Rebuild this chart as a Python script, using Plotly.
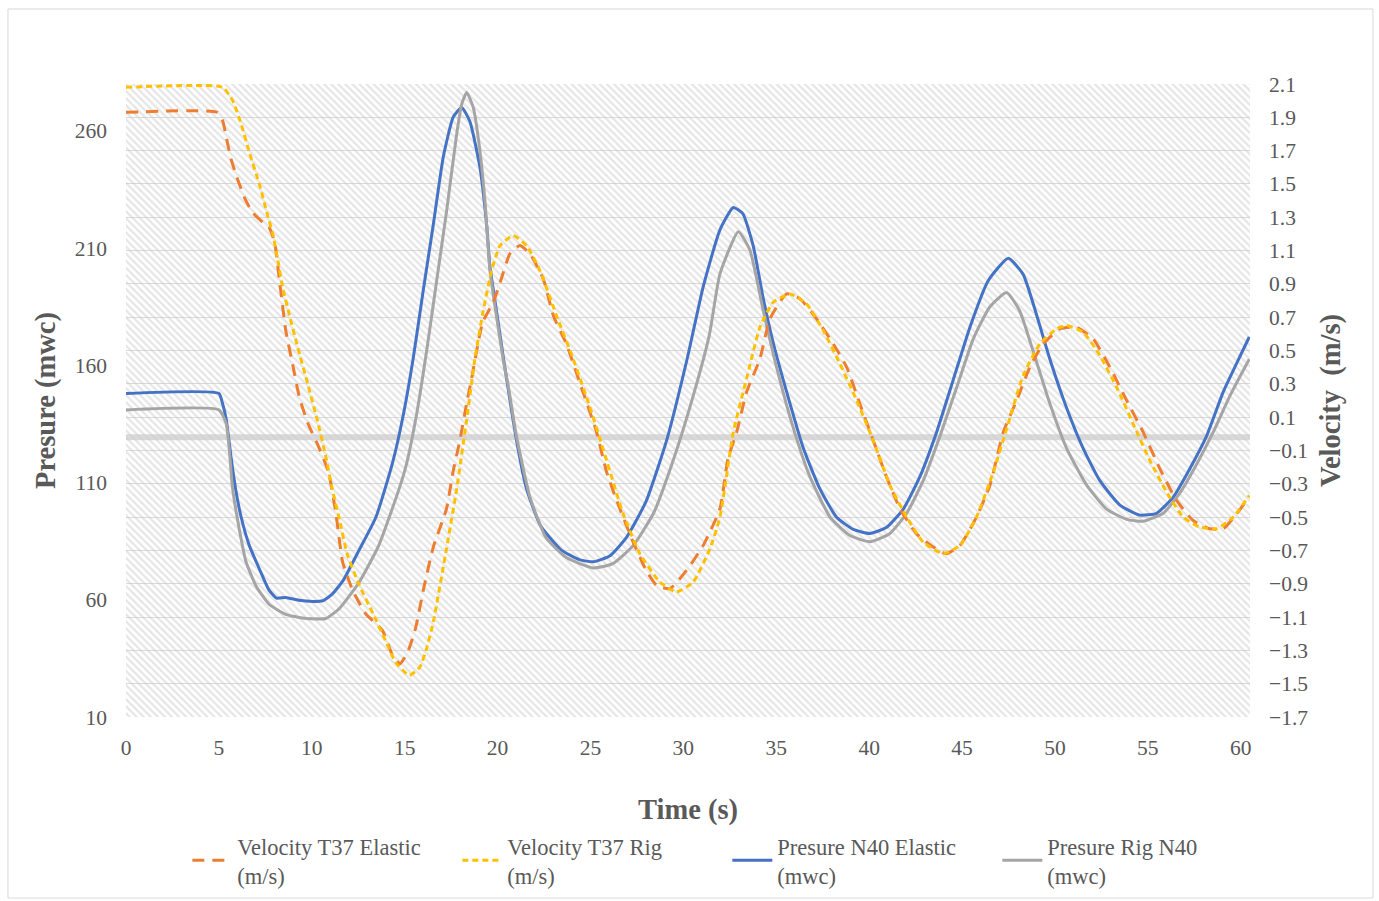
import plotly.graph_objects as go

# ---------------- data ----------------
t_vel_elastic = [0, 4.9, 5.2, 5.4, 5.65, 6.0, 6.37, 6.8, 7.36, 7.7, 8.0, 8.25, 8.6, 9.0, 9.33, 9.8,
                 10.3, 10.9, 11.3, 11.66, 12.2, 12.9, 13.8, 14.35, 14.75, 15.2, 15.6, 16.0, 16.54,
                 17.25, 17.6, 17.97, 18.33, 18.6, 19.2, 19.77, 20.2, 20.66, 21.2, 21.74, 22.46, 23.0,
                 23.7, 24.6, 25.33, 25.87, 26.58, 27.3, 28.0, 28.56, 29.27, 30.17, 31.07, 31.97,
                 32.4, 32.87, 33.4, 34.12, 34.66, 35.56, 36.28, 37.17, 38.07, 38.79, 39.5, 40.22,
                 40.94, 41.66, 42.55, 43.45, 44.17, 44.89, 45.78, 46.5, 47.22, 47.94, 48.65, 49.37,
                 50.27, 51.16, 52.06, 52.96, 53.86, 54.75, 55.65, 56.55, 57.44, 58.34, 59.06, 59.78,
                 60.46]
vel_elastic = [1.93, 1.93, 1.88, 1.78, 1.65, 1.53, 1.42, 1.33, 1.27, 1.24, 1.15, 0.93, 0.62, 0.40,
               0.22, 0.06, -0.06, -0.23, -0.48, -0.77, -0.94, -1.08, -1.18, -1.33, -1.38, -1.30,
               -1.16, -0.94, -0.68, -0.45, -0.23, -0.04, 0.18, 0.33, 0.67, 0.79, 0.93, 1.08, 1.13,
               1.08, 0.93, 0.71, 0.54, 0.25, 0.01, -0.23, -0.45, -0.65, -0.82, -0.91, -0.93, -0.82,
               -0.67, -0.45, -0.15, 0.01, 0.25, 0.45, 0.69, 0.84, 0.81, 0.69, 0.54, 0.40, 0.18,
               -0.04, -0.26, -0.45, -0.60, -0.68, -0.72, -0.67, -0.50, -0.31, 0.01, 0.20, 0.40,
               0.54, 0.63, 0.64, 0.57, 0.40, 0.20, 0.01, -0.21, -0.40, -0.52, -0.57, -0.57, -0.48,
               -0.38]

t_vel_rig = [0, 5.2, 5.74, 6.2, 6.64, 7.2, 7.6, 7.9, 8.16, 8.43, 8.8, 9.24, 9.78, 10.3, 10.76,
             11.1, 11.5, 11.9, 12.56, 13.3, 14.0, 14.5, 15.25, 15.82, 16.15, 16.54, 17.25, 17.8,
             18.33, 18.78, 19.23, 19.68, 20.13, 20.84, 21.56, 22.28, 23.17, 24.07, 24.97, 25.87,
             26.76, 27.66, 28.74, 29.63, 30.53, 31.43, 31.97, 32.69, 33.4, 34.12, 34.84, 35.74,
             36.63, 37.53, 38.43, 39.33, 40.22, 41.12, 42.02, 42.91, 43.99, 44.89, 45.78, 46.68,
             47.4, 48.29, 49.19, 50.09, 50.63, 51.52, 52.42, 53.32, 54.21, 55.11, 56.01, 56.9,
             57.8, 58.7, 59.6, 60.46]
vel_rig = [2.08, 2.08, 2.0, 1.86, 1.69, 1.49, 1.32, 1.2, 1.05, 0.88, 0.71, 0.52, 0.30, 0.08,
           -0.14, -0.33, -0.52, -0.72, -0.91, -1.08, -1.25, -1.37, -1.45, -1.40, -1.30, -1.13,
           -0.69, -0.33, 0.08, 0.45, 0.74, 0.98, 1.13, 1.19, 1.13, 0.98, 0.71, 0.45, 0.16, -0.16,
           -0.48, -0.72, -0.89, -0.95, -0.89, -0.69, -0.50, 0.01, 0.33, 0.64, 0.79, 0.84, 0.78,
           0.62, 0.42, 0.20, -0.04, -0.31, -0.50, -0.65, -0.72, -0.67, -0.50, -0.23, 0.03, 0.35,
           0.54, 0.63, 0.65, 0.61, 0.47, 0.28, 0.06, -0.16, -0.35, -0.50, -0.56, -0.57, -0.50,
           -0.37]

t_p_elastic = [0, 5.0, 5.2, 5.4, 5.65, 5.9, 6.2, 6.64, 7.2, 7.7, 8.1, 8.6, 9.3, 10.05, 10.6,
               11.1, 11.7, 12.56, 13.45, 14.35, 14.93, 15.46, 16.0, 16.54, 17.08, 17.62, 18.07,
               18.51, 19.05, 19.41, 19.59, 19.86, 20.31, 20.67, 21.02, 21.56, 22.3, 23.4, 24.4,
               25.15, 26.05, 26.94, 28.0, 29.1, 30.2, 31.07, 31.97, 32.69, 33.2, 33.76, 34.3,
               34.84, 35.56, 36.46, 37.35, 38.25, 39.15, 40.04, 40.94, 41.84, 42.73, 43.63, 44.53,
               45.43, 46.4, 47.49, 48.29, 49.01, 49.73, 50.63, 51.52, 52.42, 53.5, 54.57, 55.47,
               56.37, 57.26, 58.16, 59.06, 59.78, 60.46]
p_elastic = [148, 148, 143.6, 136.7, 121, 107.3, 95.2, 83.1, 72.8, 64.1, 60.7, 61, 59.8, 59.3,
             59.6, 62.4, 68.4, 81.4, 95.2, 118.5, 139, 163, 192, 220, 249, 266, 270, 264, 244.5,
             220, 202, 187.6, 163.4, 145, 128, 107.3, 91.8, 81.4, 77.1, 76.2, 78.8, 86.6, 102.1,
             128, 162.6, 193.6, 217.8, 227.3, 224.7, 211, 188.5, 169.5, 148.7, 124.6, 107.3,
             95.2, 90, 88.3, 90.9, 98.7, 112.5, 131.5, 153.9, 176.4, 196, 205.7, 198.8, 181.6,
             162.6, 141.8, 124.6, 110.8, 100.4, 96.1, 96.9, 103.8, 115.9, 129.8, 148.7, 160.8,
             172.1]

t_p_rig = [0, 5.0, 5.4, 5.74, 6.1, 6.46, 7.0, 7.7, 8.6, 9.7, 10.76, 11.5, 12.56, 13.6, 14.7,
           15.1, 15.64, 16.18, 16.72, 17.26, 17.8, 18.07, 18.34, 18.69, 19.05, 19.32, 19.59,
           19.95, 20.31, 20.58, 21.02, 21.74, 22.6, 23.7, 25.15, 26.2, 27.3, 28.4, 29.45, 30.53,
           31.4, 31.97, 32.96, 33.58, 34.3, 35.02, 35.92, 36.81, 37.9, 38.97, 40.04, 41.12,
           42.02, 42.91, 43.81, 44.71, 45.6, 46.5, 47.4, 48.1, 48.83, 49.73, 50.63, 51.7, 52.78,
           53.86, 54.75, 55.83, 56.73, 57.62, 58.52, 59.42, 60.46]
p_rig = [141, 141, 135, 107.3, 90, 76.2, 65.9, 58.1, 53.8, 52, 52, 56.4, 67.6, 83.1, 107.3,
         118, 139, 166, 196, 226, 258.7, 271.4, 276.4, 270, 251.5, 230.2, 200.4, 180.5, 162,
         151, 129.7, 103.9, 86.6, 78, 73.6, 75.4, 83.1, 97, 119.4, 147, 173, 199, 217, 209.2,
         183.3, 159.1, 133.2, 112.5, 95.2, 87.4, 84.8, 88.3, 96.9, 110.8, 129.8, 150.5, 171.2,
         185, 191.1, 183.3, 166, 143.6, 124.6, 109, 98.7, 94.3, 93.5, 96.9, 105.6, 117.7, 131.5,
         147, 162.6]

series_names = ["Velocity T37 Elastic<br>(m/s)", "Velocity T37 Rig<br>(m/s)",
                "Presure N40 Elastic<br>(mwc)", "Presure Rig N40<br>(mwc)"]

x_range = [0, 60.5]
p_range = [10, 280]
v_range = [-1.7, 2.1]
axis_cross_v = -0.02   # where the horizontal axis line crosses the velocity scale

FONT = "Liberation Serif"
GREY = "#595959"

fig = go.Figure()

# hatched plot-area background
fig.add_trace(go.Scatter(
    x=[x_range[0], x_range[1], x_range[1], x_range[0], x_range[0]],
    y=[p_range[0], p_range[0], p_range[1], p_range[1], p_range[0]],
    fill="toself", mode="none", showlegend=False, hoverinfo="skip",
    fillcolor="rgba(0,0,0,0)",
    fillpattern=dict(shape="\\", size=5, solidity=0.45, fgcolor="#cccccc",
                     bgcolor="rgba(0,0,0,0)"),
))

fig.add_trace(go.Scatter(x=t_p_elastic, y=p_elastic, name=series_names[2], mode="lines",
                         line=dict(color="#4472C4", width=3, shape="spline", smoothing=0.5),
                         legendrank=3))
fig.add_trace(go.Scatter(x=t_p_rig, y=p_rig, name=series_names[3], mode="lines",
                         line=dict(color="#A5A5A5", width=3, shape="spline", smoothing=0.5),
                         legendrank=4))
fig.add_trace(go.Scatter(x=t_vel_elastic, y=vel_elastic, name=series_names[0], mode="lines",
                         yaxis="y2",
                         line=dict(color="#ED7D31", width=3, dash="12px,8px", shape="spline",
                                   smoothing=0.5),
                         legendrank=1))
fig.add_trace(go.Scatter(x=t_vel_rig, y=vel_rig, name=series_names[1], mode="lines",
                         yaxis="y2",
                         line=dict(color="#FFC000", width=3, dash="6px,4px", shape="spline",
                                   smoothing=0.5),
                         legendrank=2))

tickfont = dict(family=FONT, size=21.5, color=GREY)
titlefont = dict(family=FONT, size=28.5, color=GREY, weight="bold")

fig.update_layout(
    width=1379, height=901,
    margin=dict(l=126, r=129, t=84, b=184, autoexpand=False),
    paper_bgcolor="white", plot_bgcolor="white",
    font=dict(family=FONT, color=GREY),
    xaxis=dict(range=x_range, tick0=0, dtick=5, showgrid=False, zeroline=False,
               showline=False, ticks="", tickfont=tickfont, ticklabelstandoff=15,
               title=dict(text="Time (s)", font=titlefont, standoff=40)),
    yaxis=dict(range=p_range, tick0=10, dtick=50, showgrid=False, zeroline=False,
               showline=False, ticks="", tickfont=tickfont, ticklabelstandoff=18,
               title=dict(text="Presure (mwc)", font=titlefont, standoff=10)),
    yaxis2=dict(range=v_range, tick0=-1.7, dtick=0.2, tickformat=".1f", overlaying="y",
                side="right", showgrid=True, gridcolor="#d9d9d9", gridwidth=1.3,
                zeroline=False,
                showline=False, ticks="", tickfont=tickfont, ticklabelstandoff=18,
                title=dict(text="Velocity  (m/s)", font=titlefont, standoff=12)),
    legend=dict(orientation="h", x=0.535, xanchor="center", y=-0.17, yanchor="top",
                font=dict(family=FONT, size=22.5, color=GREY), traceorder="normal",
                itemwidth=40, entrywidth=215),
    showlegend=True,
    shapes=[
        dict(type="line", xref="x domain", yref="y2", x0=0, x1=1,
             y0=axis_cross_v, y1=axis_cross_v, line=dict(color="#d9d9d9", width=6),
             layer="below"),
        dict(type="rect", xref="paper", yref="paper", x0=-0.105, x1=1.1094,
             y0=-0.286, y1=1.1185, line=dict(color="#d9d9d9", width=1),
             fillcolor="rgba(0,0,0,0)", layer="below"),
    ],
)

fig.write_html("out.html")
